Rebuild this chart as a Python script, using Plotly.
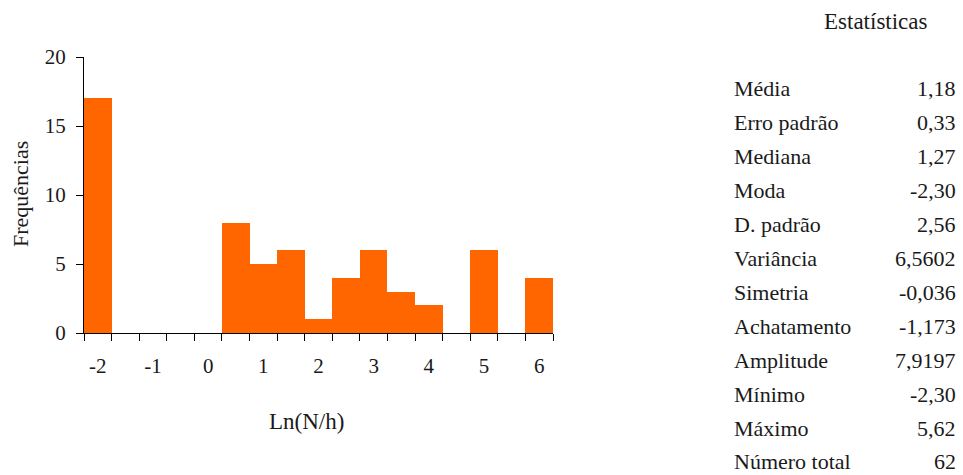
import plotly.graph_objects as go

# Data
bin_centers = [-2.0, -1.5, -1.0, -0.5, 0.0, 0.5, 1.0, 1.5, 2.0, 2.5, 3.0, 3.5, 4.0, 4.5, 5.0, 5.5, 6.0]
frequencies = [17, 0, 0, 0, 0, 8, 5, 6, 1, 4, 6, 3, 2, 0, 6, 0, 4]
x_ticks = [-2, -1, 0, 1, 2, 3, 4, 5, 6]
y_ticks = [0, 5, 10, 15, 20]
stat_labels = ["Média", "Erro padrão", "Mediana", "Moda", "D. padrão", "Variância",
               "Simetria", "Achatamento", "Amplitude", "Mínimo", "Máximo", "Número total"]
stat_values = ["1,18", "0,33", "1,27", "-2,30", "2,56", "6,5602",
               "-0,036", "-1,173", "7,9197", "-2,30", "5,62", "62"]

W, H = 963, 475
L, R, T, B = 84, 553, 57, 333
FONT = "Liberation Serif"
TXT = "#1a1a1a"

def px(xp):
    return (xp - L) / (R - L)

def py(yp):
    return (B - yp) / (B - T)

fig = go.Figure()
fig.add_trace(go.Bar(x=bin_centers, y=frequencies, width=0.5,
                     marker=dict(color="#FF6600", line=dict(width=0))))

fig.update_layout(
    width=W, height=H,
    margin=dict(l=L, r=W - R, t=T, b=H - B, pad=0),
    plot_bgcolor="white", paper_bgcolor="white",
    showlegend=False,
    bargap=0,
    font=dict(family=FONT, size=21, color=TXT),
    xaxis=dict(range=[-2.25, 6.25], tickvals=x_ticks, ticktext=[str(v) for v in x_ticks],
               showgrid=False, zeroline=False, showline=True, linecolor="black", linewidth=1,
               ticks="outside", ticklen=0, ticklabelstandoff=14,
               tickfont=dict(size=21),
               minor=dict(tick0=-2.25, dtick=0.5, ticks="outside", ticklen=7,
                          tickcolor="black", showgrid=False)),
    yaxis=dict(range=[0, 20], tickvals=y_ticks, showgrid=False, zeroline=False,
               showline=True, linecolor="black", linewidth=1,
               ticks="outside", ticklen=7, tickcolor="black",
               tickfont=dict(size=21), ticklabelstandoff=6),
)

ann = []
ann.append(dict(text="Ln(N/h)", x=px(306), y=py(421), xref="paper", yref="paper",
                showarrow=False, xanchor="center", yanchor="middle", font=dict(size=23)))
ann.append(dict(text="Frequências", x=px(20), y=py(194), xref="paper", yref="paper",
                showarrow=False, xanchor="center", yanchor="middle", textangle=-90,
                font=dict(size=22)))
ann.append(dict(text="Estatísticas", x=px(876), y=py(21), xref="paper", yref="paper",
                showarrow=False, xanchor="center", yanchor="middle", font=dict(size=23)))
row_y = [88, 122, 156, 190, 224, 258, 292, 326, 360, 394, 428, 461]
for lab, val, yy in zip(stat_labels, stat_values, row_y):
    ann.append(dict(text=lab, x=px(732), y=py(yy), xref="paper", yref="paper",
                    showarrow=False, xanchor="left", yanchor="middle", font=dict(size=22)))
    ann.append(dict(text=val, x=px(958), y=py(yy), xref="paper", yref="paper",
                    showarrow=False, xanchor="right", yanchor="middle", font=dict(size=22)))
fig.update_layout(annotations=ann)

fig.write_html("out.html")
